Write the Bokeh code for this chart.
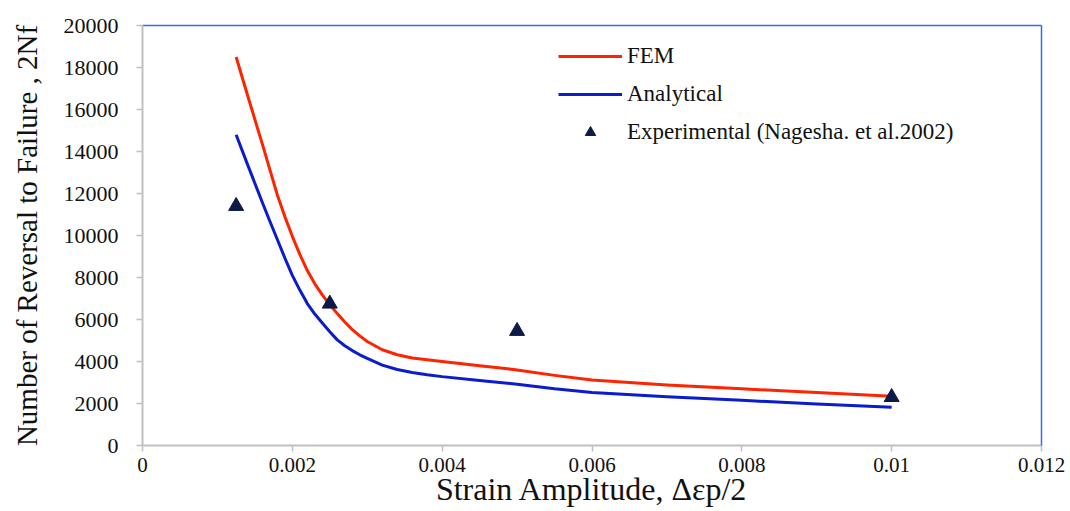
from bokeh.plotting import figure
from bokeh.models import (LinearAxis, FixedTicker, CustomJSTickFormatter, Range1d,
                          Legend, LegendItem)
from bokeh.embed import file_html
from bokeh.resources import INLINE

# ---- data ----
strain = [0.00125, 0.0014, 0.0016, 0.0017, 0.0018, 0.0019, 0.002, 0.0021, 0.0022, 0.0023,
          0.0024, 0.0025, 0.0026, 0.0027, 0.0028, 0.0029, 0.003, 0.0032, 0.0034, 0.0036,
          0.0038, 0.004, 0.0045, 0.005, 0.0055, 0.006, 0.007, 0.008, 0.009, 0.01]
fem = [18500, 16700, 14350, 13140, 11930, 10900, 9960, 9100, 8330, 7700,
       7170, 6700, 6280, 5880, 5520, 5220, 4950, 4560, 4320, 4170,
       4080, 4000, 3800, 3600, 3340, 3120, 2880, 2700, 2520, 2340]
analytical = [14800, 13400, 11570, 10680, 9810, 8930, 8100, 7400, 6760, 6260,
              5830, 5420, 5030, 4750, 4520, 4320, 4150, 3830, 3620, 3480,
              3370, 3280, 3100, 2920, 2700, 2520, 2320, 2150, 1980, 1820]
exp_strain = [0.00125, 0.0025, 0.005, 0.01]
exp_nf = [11400, 6750, 5450, 2300]

x_ticks = [0, 0.002, 0.004, 0.006, 0.008, 0.01, 0.012]
y_ticks = [0, 2000, 4000, 6000, 8000, 10000, 12000, 14000, 16000, 18000, 20000]

x_title = "Strain Amplitude, \u0394\u03b5p/2"
y_title = "Number of Reversal to Failure , 2Nf"

FONT = "Liberation Serif"

p = figure(width=1070, height=511, output_backend="svg", toolbar_location=None,
           x_range=Range1d(0, 0.012), y_range=Range1d(0, 20000),
           min_border_left=142, min_border_right=29, min_border_top=25, min_border_bottom=66)
p.outline_line_color = None
p.xgrid.visible = False
p.ygrid.visible = False
p.background_fill_color = "white"
p.border_fill_color = "white"

r_fem = p.line(strain, fem, line_color="#ff2400", line_width=3, line_join="round")
r_ana = p.line(strain, analytical, line_color="#0a1ccc", line_width=3, line_join="round")
r_exp = p.scatter(exp_strain, exp_nf, marker="triangle", size=15,
                  fill_color="#0b1a46", line_color="#0b1a46")

xa = p.xaxis[0]
ya = p.yaxis[0]
for ax in (xa, ya):
    ax.axis_line_color = "#c0c0c0"
    ax.axis_line_width = 2
    ax.major_tick_line_color = "#c0c0c0"
    ax.major_tick_line_width = 1.5
    ax.major_tick_in = 0
    ax.major_tick_out = 6
    ax.minor_tick_line_color = None
    ax.major_label_text_font = FONT
    ax.major_label_text_color = "#111111"
    ax.axis_label_text_font = FONT
    ax.axis_label_text_font_style = "normal"
    ax.axis_label_text_color = "#111111"

xa.ticker = FixedTicker(ticks=x_ticks)
xa.formatter = CustomJSTickFormatter(code="return String(Number(tick.toPrecision(6)));")
xa.major_label_text_font_size = "21px"
xa.major_label_standoff = 6
xa.axis_label = x_title
xa.axis_label_text_font_size = "32px"
xa.axis_label_standoff = -4

ya.ticker = FixedTicker(ticks=y_ticks)
ya.formatter = CustomJSTickFormatter(code="return String(Number(tick.toPrecision(6)));")
ya.major_label_text_font_size = "22px"
ya.major_label_standoff = 18
ya.axis_label = y_title
ya.axis_label_text_font_size = "29px"
ya.axis_label_standoff = 18

for side in ("above", "right"):
    ax = LinearAxis(ticker=FixedTicker(ticks=[]), axis_line_color="#2e6ef5",
                    axis_line_width=1.5, major_tick_line_color=None,
                    minor_tick_line_color=None, major_label_text_font_size="0px")
    p.add_layout(ax, side)

legend = Legend(items=[
    LegendItem(label="FEM", renderers=[r_fem]),
    LegendItem(label="Analytical", renderers=[r_ana]),
    LegendItem(label="Experimental (Nagesha. et al.2002)", renderers=[r_exp]),
], location=(416, 300))
legend.border_line_color = None
legend.background_fill_alpha = 0
legend.padding = 0
legend.margin = 0
legend.glyph_width = 64
legend.glyph_height = 26
legend.label_height = 26
legend.spacing = 12
legend.label_standoff = 5
legend.label_text_font = FONT
legend.label_text_font_size = "23px"
legend.label_text_color = "#111111"
p.add_layout(legend, "center")

open("out.html", "w").write(file_html(p, INLINE))
